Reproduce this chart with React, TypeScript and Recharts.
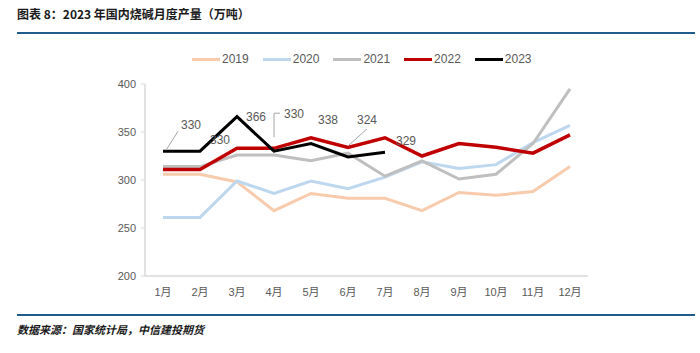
import React from "react";
import { CartesianGrid, LabelList, Line, LineChart, XAxis, YAxis } from "recharts";

const months = ["1月", "2月", "3月", "4月", "5月", "6月", "7月", "8月", "9月", "10月", "11月", "12月"];
const y2019 = [306, 306, 298, 268, 286, 281, 281, 268, 287, 284, 288, 314];
const y2020 = [261, 261, 299, 286, 299, 291, 303, 319, 312, 316, 339, 357];
const y2021 = [314, 314, 326, 326, 320, 328, 304, 320, 301, 306, 338, 395];
const y2022 = [311, 311, 333, 333, 344, 334, 344, 325, 338, 334, 328, 347];
const y2023 = [330, 330, 366, 330, 338, 324, 329];
const yTicks = [200, 250, 300, 350, 400];

const series = [
  { key: "2019", values: y2019, color: "#f8cbad", width: 3 },
  { key: "2020", values: y2020, color: "#bdd7ee", width: 3 },
  { key: "2021", values: y2021, color: "#bfbfbf", width: 3 },
  { key: "2022", values: y2022, color: "#c00000", width: 3.5 },
  { key: "2023", values: y2023, color: "#000000", width: 3 },
];

const data = months.map((m, i) => {
  const row: any = { month: m };
  series.forEach((s) => {
    if (i < s.values.length) row[s.key] = s.values[i];
  });
  return row;
});

// label offsets for the 2023 data labels (dx, dy from point)
const labelOffsets = [
  [28, -26],
  [20, -11],
  [19, 0],
  [20, -37],
  [17, -24],
  [19, -37],
  [21, -11],
];

const Label2023 = (props: any) => {
  const { x, y, value, index } = props;
  if (x == null || y == null) return null;
  const [dx, dy] = labelOffsets[index] || [0, -12];
  const lx = x + dx;
  const ly = y + dy;
  let leader = null;
  if (index === 0) {
    leader = <line x1={x + 3} y1={y - 1} x2={lx - 13} y2={ly + 6} stroke="#a6a6a6" strokeWidth={1} />;
  } else if (index === 3) {
    leader = (
      <polyline
        points={`${x},${y - 14} ${x},${ly - 1} ${x + 6},${ly - 1}`}
        fill="none"
        stroke="#a6a6a6"
        strokeWidth={1}
      />
    );
  } else if (index === 5) {
    leader = <line x1={x + 1} y1={y - 12} x2={lx} y2={ly + 9} stroke="#a6a6a6" strokeWidth={1} />;
  }
  return (
    <g>
      {leader}
      <text x={lx} y={ly} textAnchor="middle" dominantBaseline="central" fontSize={12} fill="#595959">
        {value}
      </text>
    </g>
  );
};

export default function App() {
  const font = "'Liberation Sans', 'Noto Sans CJK SC', sans-serif";
  return (
    <div style={{ position: "absolute", left: 0, top: 0, width: 700, height: 353, background: "#fff", fontFamily: font }}>
      <div
        style={{
          position: "absolute",
          left: 17,
          top: 5,
          fontSize: 12,
          fontWeight: "bold",
          color: "#1a1a1a",
          fontFamily: "'Noto Sans CJK SC', sans-serif",
        }}
      >
        图表 8：2023 年国内烧碱月度产量（万吨）
      </div>
      <div style={{ position: "absolute", left: 17, top: 32, width: 678, height: 2, background: "#1f5c8b" }} />

      <div style={{ position: "absolute", left: 192, top: 52, display: "flex", gap: 14, fontSize: 12, color: "#595959" }}>
        {series.map((s) => (
          <div key={s.key} style={{ display: "flex", alignItems: "center" }}>
            <div style={{ width: 28, height: 3, background: s.color, marginRight: 2 }} />
            <span>{s.key}</span>
          </div>
        ))}
      </div>

      <div style={{ position: "absolute", left: 0, top: 0 }}>
        <LineChart width={700} height={353} data={data} margin={{ top: 84, right: 112, bottom: 47, left: 105 }}>
          <CartesianGrid stroke="none" />
          <XAxis
            dataKey="month"
            padding={{ left: 18, right: 18 }}
            height={30}
            axisLine={{ stroke: "#d9d9d9", strokeWidth: 1.5 }}
            tickLine={false}
            tickMargin={6}
            tick={{ fontSize: 11, fill: "#595959", fontFamily: font }}
            interval={0}
          />
          <YAxis
            domain={[200, 400]}
            ticks={yTicks}
            width={40}
            axisLine={{ stroke: "#d9d9d9", strokeWidth: 1.5 }}
            tickLine={{ stroke: "#d9d9d9" }}
            tickSize={4}
            tickMargin={5}
            tick={{ fontSize: 11, fill: "#595959", fontFamily: font }}
          />
          {series.slice(0, 3).map((s) => (
            <Line
              key={s.key}
              type="linear"
              dataKey={s.key}
              stroke={s.color}
              strokeWidth={s.width}
              dot={false}
              activeDot={false}
              isAnimationActive={false}
            />
          ))}
          {/* labels of 2023 sit beneath the 2022 line, as in the source */}
          <Line
            type="linear"
            dataKey="2023"
            stroke="none"
            dot={false}
            activeDot={false}
            legendType="none"
            isAnimationActive={false}
          >
            <LabelList dataKey="2023" content={<Label2023 />} />
          </Line>
          {series.slice(3).map((s) => (
            <Line
              key={s.key}
              type="linear"
              dataKey={s.key}
              stroke={s.color}
              strokeWidth={s.width}
              dot={false}
              activeDot={false}
              isAnimationActive={false}
            />
          ))}
        </LineChart>
      </div>

      <div style={{ position: "absolute", left: 17, top: 314, width: 678, height: 2, background: "#1f5c8b" }} />
      <div
        style={{
          position: "absolute",
          left: 17,
          top: 321,
          fontSize: 11,
          fontWeight: "bold",
          fontStyle: "italic",
          color: "#1a1a1a",
          fontFamily: "'Noto Sans CJK SC', sans-serif",
        }}
      >
        数据来源：国家统计局，中信建投期货
      </div>
    </div>
  );
}
